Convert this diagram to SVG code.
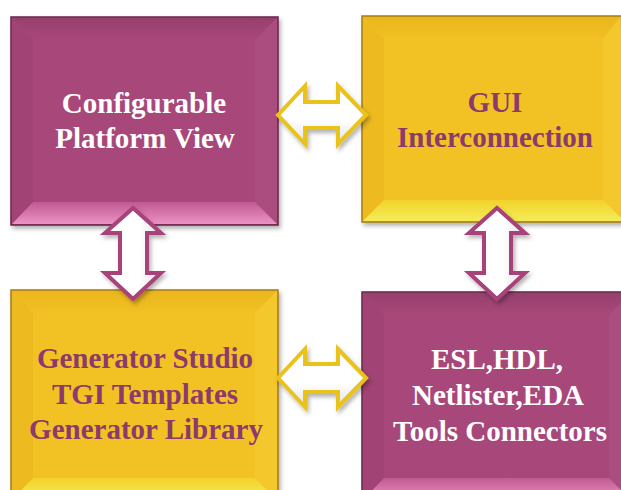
<svg xmlns="http://www.w3.org/2000/svg" width="621" height="490" viewBox="0 0 621 490">
<defs>
<linearGradient id="mBot" x1="0" y1="0" x2="0" y2="1"><stop offset="0" stop-color="#C05A92"/><stop offset="1" stop-color="#EC92C4"/></linearGradient>
<linearGradient id="gBot" x1="0" y1="0" x2="0" y2="1"><stop offset="0" stop-color="#F3D22C"/><stop offset="1" stop-color="#F4EC58"/></linearGradient>
<linearGradient id="mTop" x1="0" y1="0" x2="0" y2="1"><stop offset="0" stop-color="#96406D"/><stop offset="1" stop-color="#A84879"/></linearGradient>
<linearGradient id="gTop" x1="0" y1="0" x2="0" y2="1"><stop offset="0" stop-color="#E9B61C"/><stop offset="1" stop-color="#F2C124"/></linearGradient>
<linearGradient id="arrH" x1="0" y1="0" x2="0" y2="1"><stop offset="0" stop-color="#FFFFFF"/><stop offset="0.6" stop-color="#FFFFFF"/><stop offset="1" stop-color="#E2E2E2"/></linearGradient>
<linearGradient id="arrV" x1="0" y1="0" x2="1" y2="0"><stop offset="0" stop-color="#FFFFFF"/><stop offset="0.6" stop-color="#FFFFFF"/><stop offset="1" stop-color="#E2E2E2"/></linearGradient>
<filter id="sh" x="-20%" y="-20%" width="140%" height="140%"><feDropShadow dx="2" dy="3" stdDeviation="2" flood-color="#000" flood-opacity="0.3"/></filter>
</defs>
<style>
.mag{fill:#A8487A;stroke:#6A2448;stroke-width:1.5}
.gold{fill:#F2C124;stroke:#A57A10;stroke-width:1.5}
.mL{fill:#A14374}.mR{fill:#AC4D80}
.gL{fill:#EDBB1F}.gR{fill:#F4C82C}
.tw{font-family:"Liberation Serif",serif;font-weight:bold;font-size:29px;fill:#FFFFFF;text-anchor:middle}
.tp{font-family:"Liberation Serif",serif;font-weight:bold;font-size:29px;fill:#8C3A6B;text-anchor:middle}
.ag{fill:url(#arrH);stroke:#E9C21E;stroke-width:4;stroke-linejoin:miter;filter:url(#sh)}
.am{fill:url(#arrV);stroke:#A8437A;stroke-width:4;stroke-linejoin:miter;filter:url(#sh)}
</style>
<g id="n1">
<rect class="mag" x="11" y="17" width="267" height="208" filter="url(#sh)"/>
<polygon fill="url(#mTop)" points="12,18 277,18 255,40 33,40"/>
<polygon class="mL" points="12,18 33,40 33,202 12,224"/>
<polygon class="mR" points="277,18 277,224 255,202 255,40"/>
<polygon fill="url(#mBot)" points="12,224 33,202 255,202 277,224"/>
<rect x="33" y="40" width="222" height="162" fill="#A8487A"/>
<text class="tw" x="144" y="113">Configurable</text>
<text class="tw" x="145" y="148">Platform View</text>
</g>
<g id="n2">
<rect class="gold" x="362" y="16" width="270" height="206" filter="url(#sh)"/>
<polygon fill="url(#gTop)" points="363,17 631,17 609,39 384,39"/>
<polygon class="gL" points="363,17 384,39 384,200 363,221"/>
<polygon class="gR" points="620,17 620,221 603,200 603,39"/>
<polygon fill="url(#gBot)" points="363,221 384,200 603,200 624,221"/>
<rect x="384" y="39" width="219" height="161" fill="#F2C124"/>
<text class="tp" x="495" y="112">GUI</text>
<text class="tp" x="495" y="147">Interconnection</text>
</g>
<g id="n3">
<rect class="gold" x="11" y="290" width="267" height="215" filter="url(#sh)"/>
<polygon fill="url(#gTop)" points="12,291 277,291 255,313 33,313"/>
<polygon class="gL" points="12,291 33,313 33,478 12,500"/>
<polygon class="gR" points="277,291 277,500 255,478 255,313"/>
<polygon fill="url(#gBot)" points="12,500 33,478 255,478 277,500"/>
<rect x="33" y="313" width="222" height="165" fill="#F2C124"/>
<text class="tp" x="145" y="368">Generator Studio</text>
<text class="tp" x="145" y="404">TGI Templates</text>
<text class="tp" x="146" y="439">Generator Library</text>
</g>
<g id="n4">
<rect class="mag" x="362" y="292" width="270" height="215" filter="url(#sh)"/>
<polygon fill="url(#mTop)" points="363,293 631,293 609,315 384,315"/>
<polygon class="mL" points="363,293 384,315 384,478 363,500"/>
<polygon class="mR" points="631,293 631,500 609,478 609,315"/>
<polygon fill="url(#mBot)" points="363,500 384,478 609,478 631,500"/>
<rect x="384" y="315" width="225" height="163" fill="#A8487A"/>
<text class="tw" x="497" y="369">ESL,HDL,</text>
<text class="tw" x="498" y="405">Netlister,EDA</text>
<text class="tw" x="500" y="441">Tools Connectors</text>
</g>
<g id="connectors">
<polygon class="ag" points="278,115 305,86 305,102 338,102 338,86 366,115 338,144 338,128 305,128 305,144"/>
<polygon class="ag" points="278,378 305,349 305,364 338,364 338,349 366,378 338,407 338,392 305,392 305,407"/>
<polygon class="am" points="133,208 161,233 147,233 147,273 161,273 133,299 105,273 120,273 120,233 105,233"/>
<polygon class="am" points="497,208 525,233 511,233 511,273 525,273 497,299 469,273 484,273 484,233 469,233"/>
</g>
</svg>
